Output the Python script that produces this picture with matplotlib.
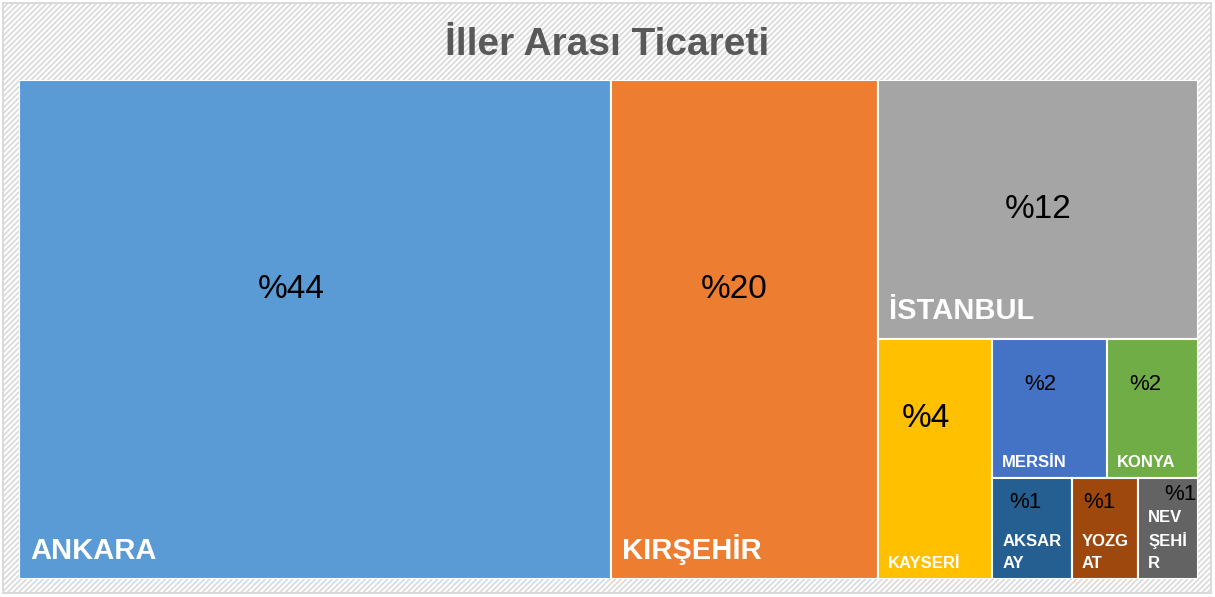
import matplotlib.pyplot as plt
from matplotlib.patches import Rectangle

plt.rcParams['font.family'] = ['Liberation Sans', 'DejaVu Sans']
plt.rcParams['hatch.linewidth'] = 1.2
plt.rcParams['hatch.color'] = '#E6E6E6'

# data: share of trade by province (percent)
cities = ['ANKARA', 'KIRŞEHİR', 'İSTANBUL', 'KAYSERİ', 'MERSİN', 'KONYA',
          'AKSARAY', 'YOZGAT', 'NEVŞEHİR']
shares = [44.2, 20.0, 12.4, 4.1, 2.4, 1.9, 1.2, 1.0, 0.9]
colors = ['#5B9BD5', '#ED7D31', '#A5A5A5', '#FFC000', '#4472C4', '#70AD47',
          '#255E91', '#9E480E', '#636363']
# wrapped names used in the narrow cells
names_shown = ['ANKARA', 'KIRŞEHİR', 'İSTANBUL', 'KAYSERİ', 'MERSİN', 'KONYA',
               'AKSAR\nAY', 'YOZG\nAT', 'NEV\nŞEHİ\nR']
# how many items go in each row of the layout
row_sizes = [1, 1, 1, 1, 2, 1, 1, 1]

W, H = 1179, 499


def layout(values, rows, x, y, w, h):
    # rows are laid along the shorter side of the remaining rectangle
    total = sum(values)
    scale = w * h / total
    rects = []
    i = 0
    for n in rows:
        vals = values[i:i + n]
        area = sum(vals) * scale
        if w >= h:
            cw = area / h
            yy = y
            for v in vals:
                ch = v * scale / cw
                rects.append((x, yy, cw, ch))
                yy += ch
            x += cw
            w -= cw
        else:
            ch = area / w
            xx = x
            for v in vals:
                cw = v * scale / ch
                rects.append((xx, y, cw, ch))
                xx += cw
            y += ch
            h -= ch
        i += n
    return rects


rects = layout(shares, row_sizes, 0, 0, W, H)

fig = plt.figure(figsize=(12.15, 5.97), dpi=100)
fig.patch.set_facecolor('white')

# hatched background with a light frame
bg = fig.add_axes([0, 0, 1, 1])
bg.set_xlim(0, 1215)
bg.set_ylim(597, 0)
bg.axis('off')
bg.add_patch(Rectangle((3, 3), 1208, 590, facecolor='white', hatch='//////',
                       edgecolor='#D9D9D9', linewidth=1.2))
bg.add_patch(Rectangle((3, 3), 1208, 590, facecolor='none',
                       edgecolor='#D9D9D9', linewidth=1.2))

fig.text(607 / 1215, 1 - 45 / 597, 'İller Arası Ticareti', ha='center',
         va='center', fontsize=28, fontweight='bold', color='#595959')

ax = fig.add_axes([19 / 1215, 18 / 597, W / 1215, H / 597])
ax.set_xlim(0, W)
ax.set_ylim(H, 0)
ax.axis('off')

for k, (x, y, w, h) in enumerate(rects):
    ax.add_patch(Rectangle((x, y), w, h, facecolor=colors[k],
                           edgecolor='white', linewidth=1.5))
    big = w * h > 50000
    name_fs = 21 if big else 12
    pct_fs = 24 if big or k == 3 else 16
    ax.text(x + (11 if big else 10), y + h - (14 if big else 8), names_shown[k],
            ha='left', va='bottom', fontsize=name_fs, fontweight='bold',
            color='white', linespacing=1.55)
    if k == 2:
        px, py = x + 0.5 * w, y + 0.5 * h
    elif k < 2:
        px, py = x + 0.46 * w, y + 0.42 * h
    elif k < 6:
        px, py = x + 0.42 * w, y + 0.33 * h
    elif k < 8:
        px, py = x + 0.42 * w, y + 0.24 * h
    else:
        px, py = x + 0.7 * w, y + 0.16 * h
    ax.text(px, py, '%' + str(round(shares[k])), ha='center',
            va='center', fontsize=pct_fs, color='black')

fig.savefig('out.png', dpi=100)
